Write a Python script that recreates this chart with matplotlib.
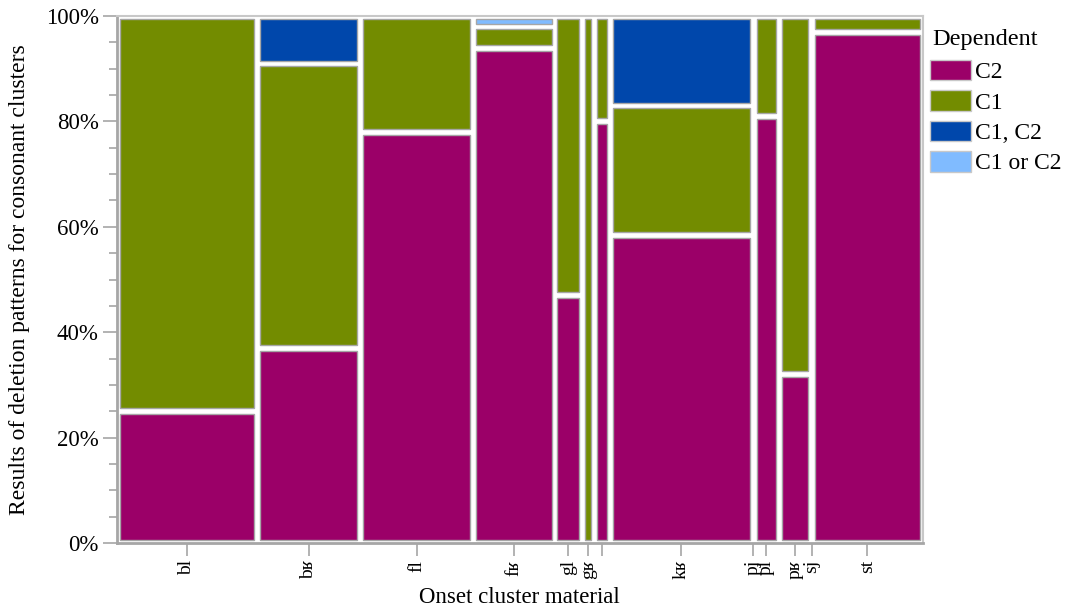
import numpy as np
import matplotlib.pyplot as plt
from matplotlib.patches import Rectangle, Patch
from matplotlib.ticker import MultipleLocator, FuncFormatter

plt.rcParams['font.family'] = ['Liberation Serif', 'DejaVu Serif']

# onset clusters (x categories), the label of "kl" is hidden in the original
clusters = ['bl', 'bʁ', 'fl', 'fʁ', 'gl', 'gʁ', 'kl', 'kʁ', 'pj', 'pl', 'pʁ', 'sj', 'st']
tick_text = ['bl', 'bʁ', 'fl', 'fʁ', 'gl', 'gʁ', '', 'kʁ', 'pj', 'pl', 'pʁ', 'sj', 'st']
# column sizes (approx. number of items per cluster)
counts = [68, 49, 54, 38, 11, 3, 5, 69, 0, 10, 13, 0, 53]

dependent = ['C2', 'C1', 'C1, C2', 'C1 or C2']
pct_c2 = [25, 37, 78, 94, 47, 0, 80, 58.5, 0, 81, 32, 0, 97]
pct_c1 = [75, 54, 22, 4, 53, 100, 20, 24.5, 0, 19, 68, 0, 3]
pct_c1c2 = [0, 9, 0, 0, 0, 0, 0, 17, 0, 0, 0, 0, 0]
pct_c1orc2 = [0, 0, 0, 2, 0, 0, 0, 0, 0, 0, 0, 0, 0]
colors = ['#9B0068', '#738C00', '#0047AB', '#80BBFF']

grey = '#A6A6A6'
gap = 3.0      # white gap between columns, in count units
vgap = 1.1     # white gap between segments, in percent

fig = plt.figure(figsize=(10.68, 6.10), dpi=100)
ax = fig.add_axes([0.1093, 0.1098, 0.7549, 0.864])

segments = np.array([pct_c2, pct_c1, pct_c1c2, pct_c1orc2])
left = 0.0
centers = []
for i, n in enumerate(counts):
    cell = n + gap if n > 0 else 0.5
    centers.append(left + cell / 2)
    if n > 0:
        bottom = 0.0
        for j in range(len(dependent)):
            h = segments[j, i]
            if h <= 0:
                continue
            ax.add_patch(Rectangle((left + gap / 2, bottom + vgap / 2), n, h - vgap,
                                   facecolor=colors[j], edgecolor=grey, linewidth=1.0))
            bottom += h
    left += cell

ax.set_xlim(0, left)
ax.set_ylim(0, 100)

ax.set_xticks(centers)
ax.set_xticklabels(tick_text, rotation=90, fontsize=14)
ax.yaxis.set_major_locator(MultipleLocator(20))
ax.yaxis.set_minor_locator(MultipleLocator(5))
ax.yaxis.set_major_formatter(FuncFormatter(lambda v, p: '%d%%' % v))
ax.tick_params(axis='y', which='major', length=10, width=1.2, color=grey, labelsize=16.5, pad=3)
ax.tick_params(axis='y', which='minor', length=6, width=1.2, color=grey)
ax.tick_params(axis='x', which='major', length=9, width=1.2, color=grey, pad=3)

for side in ['left', 'bottom']:
    ax.spines[side].set_color(grey)
    ax.spines[side].set_linewidth(2)
for side in ['top', 'right']:
    ax.spines[side].set_color('#C8C8C8')
    ax.spines[side].set_linewidth(1.5)

ax.set_xlabel('Onset cluster material', fontsize=16.5, labelpad=6)
ax.set_ylabel('Results of deletion patterns for consonant clusters', fontsize=17, labelpad=11)

# legend: title drawn separately to get the wider gap of the original
fig.text(932 / 1068, 1 - 40 / 610, 'Dependent', fontsize=17.5, ha='left', va='center')
handles = [Patch(facecolor=c, edgecolor='#C8C8C8', linewidth=1) for c in colors]
fig.legend(handles, dependent, loc='upper left',
           bbox_to_anchor=(930 / 1068, 1 - 60 / 610), frameon=False,
           fontsize=17, handlelength=1.75, handleheight=0.95, handletextpad=0.15,
           labelspacing=0.3, borderpad=0, borderaxespad=0)

fig.savefig('out.png', dpi=100)
